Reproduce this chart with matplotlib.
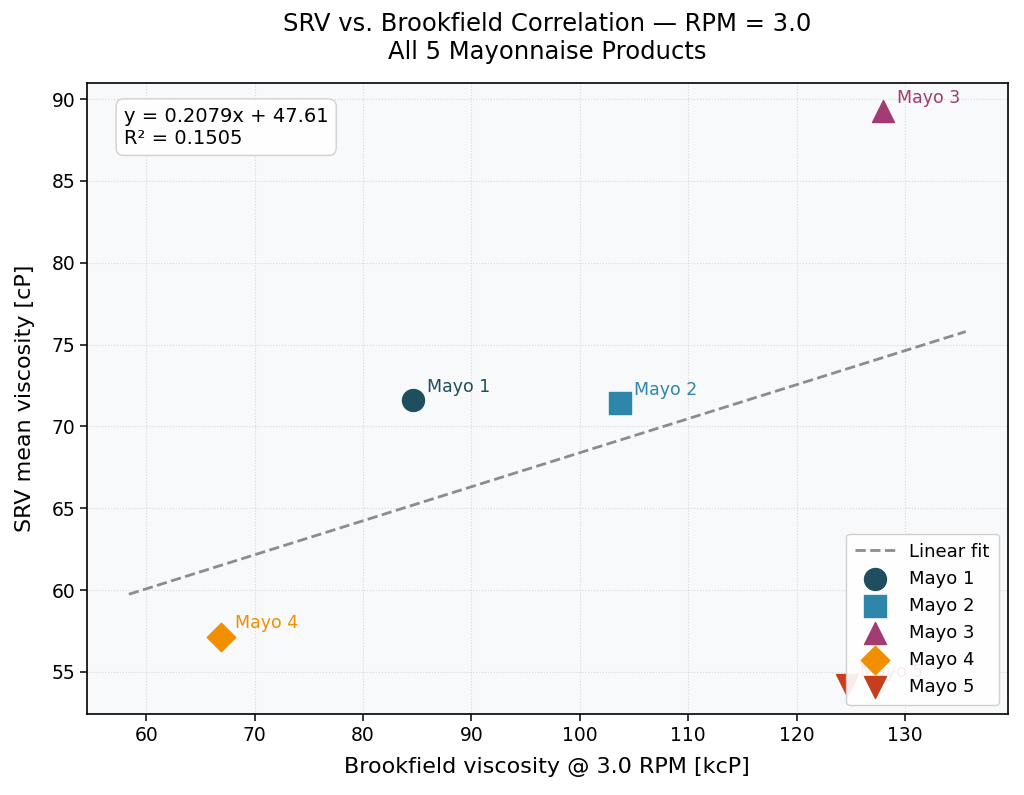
import numpy as np
import matplotlib.pyplot as plt

# Values
products = ["Mayo 1", "Mayo 2", "Mayo 3", "Mayo 4", "Mayo 5"]
brookfield = [84.6, 103.7, 128.0, 66.9, 124.6]   # kcP @ 3.0 RPM
srv_mean = [71.59, 71.42, 89.25, 57.15, 54.19]   # cP
markers = ["o", "s", "^", "D", "v"]
colors = ["#1f4e5f", "#2e86ab", "#a23b72", "#f18f01", "#c73e1d"]

x = np.array(brookfield)
y = np.array(srv_mean)

fig, ax = plt.subplots(figsize=(10.24, 7.95), dpi=100)
fig.subplots_adjust(left=0.085, right=0.984, top=0.896, bottom=0.102)
ax.set_facecolor("#f7f9fa")

# linear fit
slope, intercept = np.polyfit(x, y, 1)
r2 = np.corrcoef(x, y)[0, 1] ** 2
xfit = np.linspace(58.4, 135.6, 50)
ax.plot(xfit, slope * xfit + intercept, "--", color="gray", lw=2,
        alpha=0.9, label="Linear fit", zorder=2)

for name, bx, sy, m, c in zip(products, x, y, markers, colors):
    size = 250 if m != "D" else 210
    ax.scatter(bx, sy, s=size, marker=m, color=c, label=name, zorder=3)
    ax.annotate(name, (bx, sy), xytext=(10, 6), textcoords="offset points",
                fontsize=12.5, color=c, zorder=2)

ax.text(0.04, 0.962, f"y = {slope:.4f}x + {intercept:.2f}\nR² = {r2:.4f}",
        transform=ax.transAxes, fontsize=14, va="top", linespacing=1.2,
        bbox=dict(boxstyle="round,pad=0.4", fc="white", ec="#cccccc", alpha=0.9))

ax.grid(True, linestyle=":", color="#cfcfcf", alpha=0.8)
ax.tick_params(labelsize=13.5, length=5, width=1.1)
for sp in ax.spines.values():
    sp.set_linewidth(1.2)
ax.set_xlabel("Brookfield viscosity @ 3.0 RPM [kcP]", fontsize=16, labelpad=9)
ax.set_ylabel("SRV mean viscosity [cP]", fontsize=16, labelpad=12)
ax.set_title("SRV vs. Brookfield Correlation — RPM = 3.0\nAll 5 Mayonnaise Products",
             fontsize=17.5, pad=17)
leg = ax.legend(loc="lower right", fontsize=13, framealpha=0.9,
                labelspacing=0.5, borderpad=0.5, handlelength=2.2)
leg.set_zorder(5)

plt.savefig("out.png", dpi=100)
